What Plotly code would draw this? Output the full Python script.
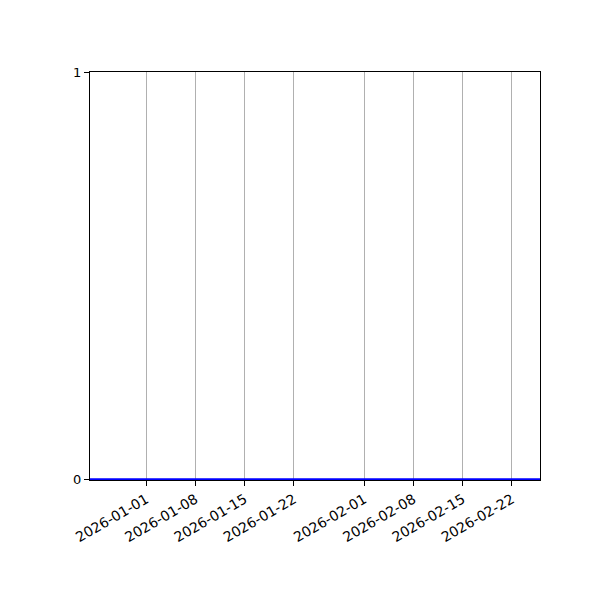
import pandas as pd
import plotly.graph_objects as go

# daily series, all zeros
dates = pd.date_range("2025-12-24", "2026-02-26", freq="D")
values = [0] * len(dates)

tick_dates = ["2026-01-01", "2026-01-08", "2026-01-15", "2026-01-22",
              "2026-02-01", "2026-02-08", "2026-02-15", "2026-02-22"]
y_ticks = [0, 1]

line = go.Scatter(x=dates, y=values, mode="lines",
                  line=dict(color="#0000ff", width=2), hoverinfo="x+y")

fig = go.Figure(data=[line])
fig.update_layout(
    width=600, height=600,
    showlegend=False,
    plot_bgcolor="white", paper_bgcolor="white",
    margin=dict(l=82, r=68, t=64, b=128),
    font=dict(family="DejaVu Sans", size=13, color="black"),
)
fig.update_xaxes(
    type="date",
    range=[dates[0], dates[-1]],
    tickvals=tick_dates,
    ticktext=tick_dates,
    tickangle=-30,
    tickfont=dict(size=14),
    ticks="outside", ticklen=5, tickcolor="black",
    showgrid=True, gridcolor="#b0b0b0", gridwidth=1,
    showline=True, linecolor="black", linewidth=1, mirror=True,
    zeroline=False, layer="below traces",
)
fig.update_yaxes(
    range=[-0.002, 1],
    tickvals=y_ticks,
    ticks="outside", ticklen=5, tickcolor="black",
    showgrid=False,
    showline=True, linecolor="black", linewidth=1, mirror=True,
    zeroline=False,
)

fig.write_html("out.html")
